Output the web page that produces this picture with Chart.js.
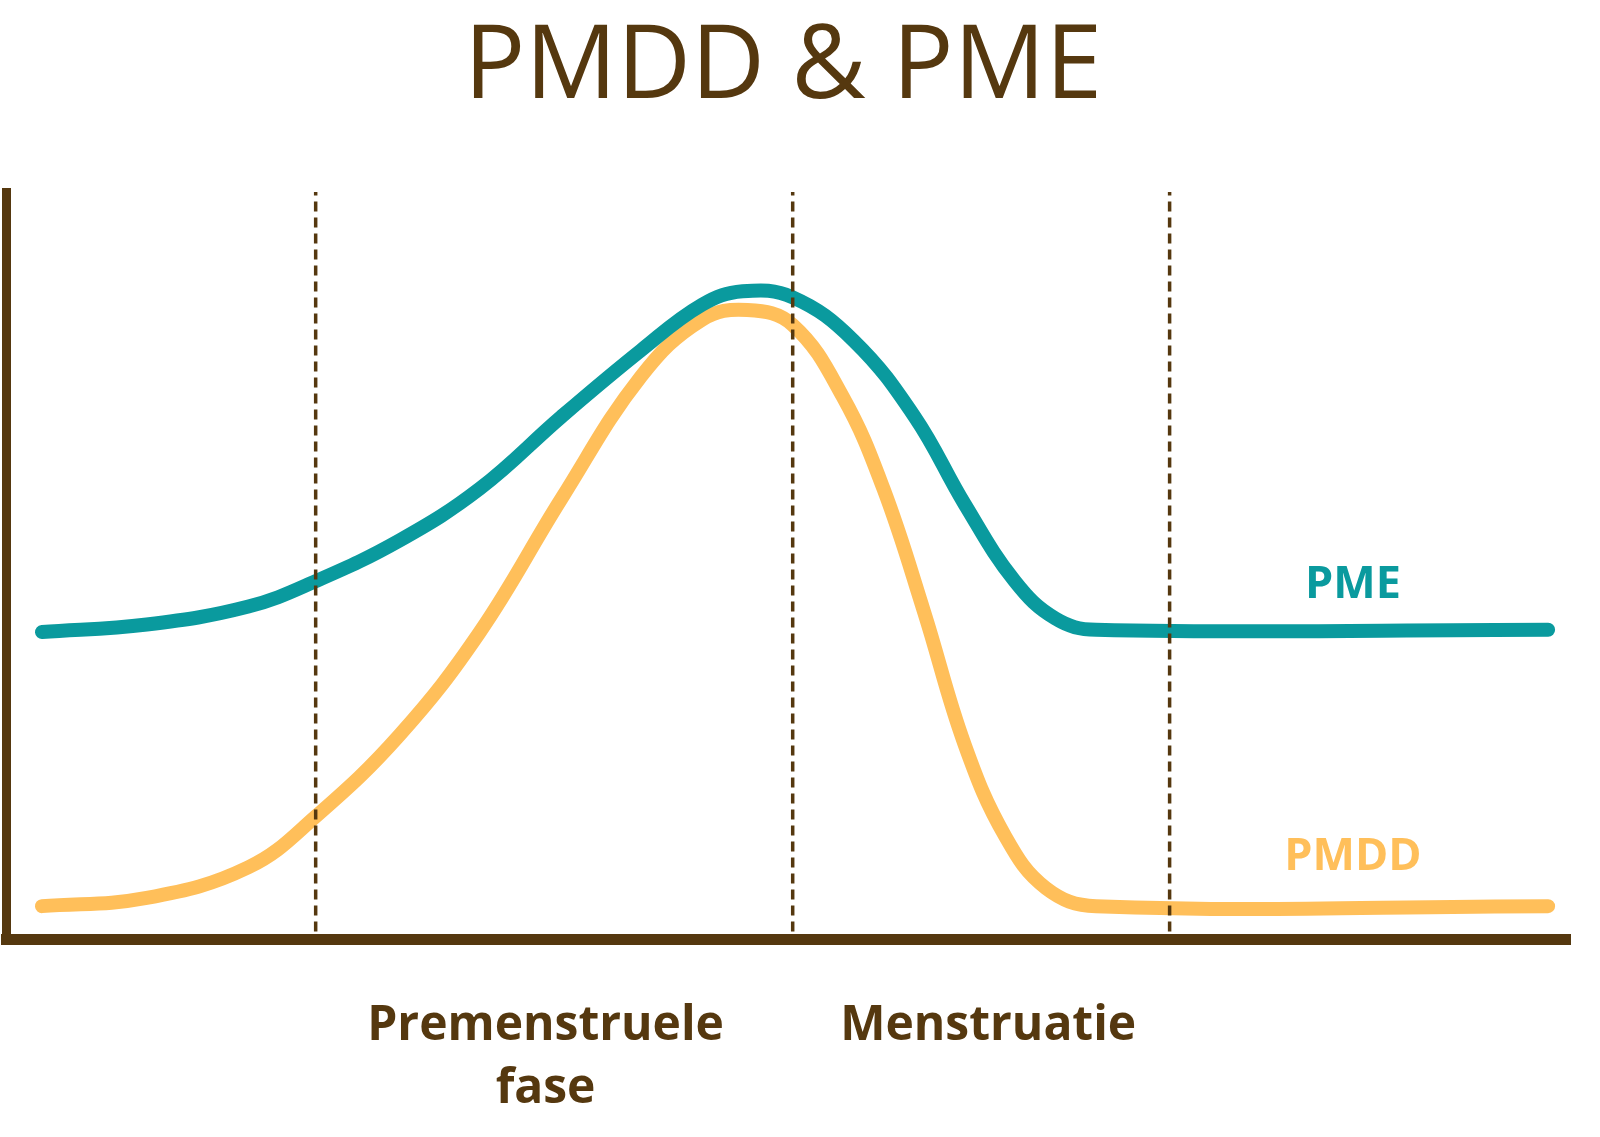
<!DOCTYPE html>
<html>
<head>
<meta charset="utf-8">
<script src="https://cdn.jsdelivr.net/npm/chart.js@4/dist/chart.umd.min.js"></script>
<style>
  html, body { margin: 0; padding: 0; background: #fff; }
  #wrap { width: 1600px; height: 1137px; }
</style>
</head>
<body>
<div id="wrap"><canvas id="c"></canvas></div>
<script>
const brown = '#55380f';
const teal = '#0a9a9e';
const orange = '#ffbf5a';

const pmeX = [2.3, 9, 15.5, 19.8, 25.2, 30.3, 35.5, 40.6, 44.5, 47.1, 50.3, 54.2, 58.1, 61.3, 64.5, 67.1, 69.7, 98.6];
const pmeY = [41.1, 42.1, 44.5, 47.9, 53.4, 60.3, 69.9, 78.8, 84.9, 86.7, 85.9, 80.1, 69.9, 58.2, 47.9, 42.9, 41.4, 41.4];
const pmddX = [2.3, 9, 15.5, 19.8, 25.2, 30.3, 35.5, 40.6, 44.5, 47.4, 50.3, 53.5, 56.1, 58.7, 61.3, 63.9, 66.5, 69.7, 98.6];
const pmddY = [4.4, 5.5, 9.6, 16.4, 27.4, 41.1, 58.9, 75.3, 82.9, 84.2, 82.2, 72.6, 60.3, 43.8, 26.0, 13.7, 6.8, 4.4, 4.4];
const phaseLines = [19.8, 50.3, 74.4];
const phaseLabels = [
  { text: ['Premenstruele', 'fase'], x: 34.5 },
  { text: ['Menstruatie'], x: 62.8 }
];

const pts = (xs, ys) => xs.map((x, i) => ({ x, y: ys[i] }));

const datasets = phaseLines.map(x => ({
  data: [{ x, y: 1 }, { x, y: 101 }],
  borderColor: brown, borderWidth: 3.5, borderDash: [10, 6],
  pointRadius: 0
}));
datasets.push({
  label: 'PME', data: pts(pmeX, pmeY), borderColor: teal, borderWidth: 14,
  borderCapStyle: 'round', tension: 0.4, pointRadius: 0
});
datasets.push({
  label: 'PMDD', data: pts(pmddX, pmddY), borderColor: orange, borderWidth: 14,
  borderCapStyle: 'round', tension: 0.4, pointRadius: 0
});

const textPlugin = {
  id: 'texts',
  afterDraw(chart) {
    const { ctx, scales: { x } } = chart;
    ctx.save();
    ctx.fillStyle = brown;
    ctx.textAlign = 'center';
    ctx.textBaseline = 'alphabetic';
    ctx.font = '102px "Open Sans"';
    ctx.fillText('PMDD & PME', 783, 98);
    ctx.font = 'bold 48px "Open Sans"';
    phaseLabels.forEach(l => {
      l.text.forEach((t, i) => ctx.fillText(t, x.getPixelForValue(l.x), 1040 + i * 63));
    });
    ctx.font = 'bold 45px "Open Sans"';
    ctx.fillStyle = teal;
    ctx.fillText('PME', 1353, 598);
    ctx.fillStyle = orange;
    ctx.fillText('PMDD', 1353, 870);
    ctx.restore();
  }
};

new Chart(document.getElementById('c'), {
  type: 'line',
  data: { datasets },
  options: {
    responsive: true,
    maintainAspectRatio: false,
    animation: false,
    layout: { padding: { top: 192, left: 6, right: 30, bottom: 198 } },
    plugins: { legend: { display: false }, tooltip: { enabled: false }, title: { display: false } },
    scales: {
      x: {
        type: 'linear', min: 0, max: 100,
        ticks: { display: false }, grid: { display: false, drawTicks: false },
        border: { display: true, color: brown, width: 11 }
      },
      y: {
        min: 0, max: 100,
        ticks: { display: false }, grid: { display: false, drawTicks: false },
        border: { display: true, color: brown, width: 9 }
      }
    }
  },
  plugins: [textPlugin]
});
</script>
</body>
</html>
